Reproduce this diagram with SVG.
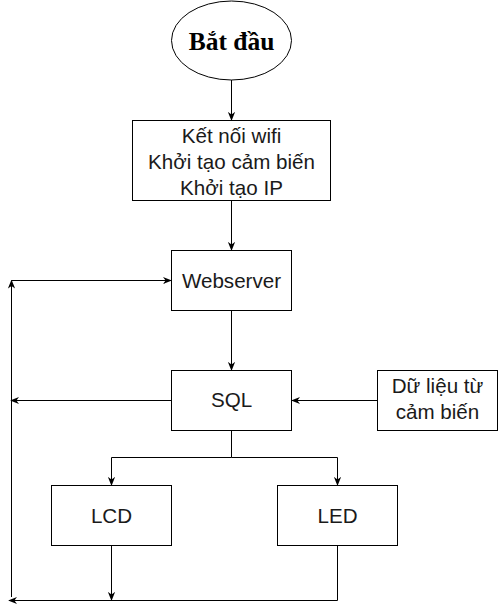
<svg xmlns="http://www.w3.org/2000/svg" width="498" height="609" viewBox="0 0 498 609">
<defs>
<style>
.box{fill:#fff;stroke:#000;stroke-width:1}
.t{font-family:"Liberation Sans",Arial,sans-serif;font-size:20.6px;fill:#1a1a1a;text-anchor:middle}
.title{font-family:"Liberation Serif","Times New Roman",serif;font-size:25.5px;font-weight:bold;fill:#000;text-anchor:middle}
.e{fill:none;stroke:#000;stroke-width:1}
.ea{fill:none;stroke:#000;stroke-width:1;marker-end:url(#arr)}
</style>
<marker id="arr" viewBox="0 0 10 10" refX="9" refY="5" markerWidth="9" markerHeight="9" orient="auto" markerUnits="userSpaceOnUse">
<path d="M0,1 L10,5 L0,9 L3,5 Z" fill="#000"/>
</marker>
</defs>
<g id="edges">
<path class="ea" d="M231.5,80 L231.5,120"/>
<path class="ea" d="M231.5,200.5 L231.5,250"/>
<path class="ea" d="M231.5,310.5 L231.5,370"/>
<path class="ea" d="M377.5,400.5 L292,400.5"/>
<path class="ea" d="M171.5,400.5 L11,400.5"/>
<path class="ea" d="M231.5,430.5 L231.5,457.5 L111.5,457.5 L111.5,485"/>
<path class="ea" d="M231.5,457.5 L337.5,457.5 L337.5,485"/>
<path class="ea" d="M111.5,545.5 L111.5,600"/>
<path class="ea" d="M337.5,545.5 L337.5,600.5 L9,600.5"/>
<path class="ea" d="M11.5,597 L11.5,280.5"/>
<path class="ea" d="M11.5,280.5 L171,280.5"/>
</g>
<g id="start">
<ellipse class="box" cx="231.5" cy="40.5" rx="60" ry="39.5"/>
<text class="title" x="231.5" y="50">Bắt đầu</text>
</g>
<g id="init">
<rect class="box" x="132.5" y="120.5" width="198" height="80"/>
<text class="t" x="231.5" y="143">Kết nối wifi</text>
<text class="t" x="231.5" y="169">Khởi tạo cảm biến</text>
<text class="t" x="231.5" y="195">Khởi tạo IP</text>
</g>
<g id="webserver">
<rect class="box" x="171.5" y="250.5" width="120" height="60"/>
<text class="t" x="231.5" y="288">Webserver</text>
</g>
<g id="sql">
<rect class="box" x="171.5" y="370.5" width="120" height="60"/>
<text class="t" x="231.5" y="407">SQL</text>
</g>
<g id="sensor">
<rect class="box" x="377.5" y="370.5" width="120" height="60"/>
<text class="t" x="437.5" y="393">Dữ liệu từ</text>
<text class="t" x="437.5" y="419">cảm biến</text>
</g>
<g id="lcd">
<rect class="box" x="51.5" y="485.5" width="120" height="60"/>
<text class="t" x="111.5" y="523">LCD</text>
</g>
<g id="led">
<rect class="box" x="277.5" y="485.5" width="120" height="60"/>
<text class="t" x="337.5" y="523">LED</text>
</g>
</svg>
